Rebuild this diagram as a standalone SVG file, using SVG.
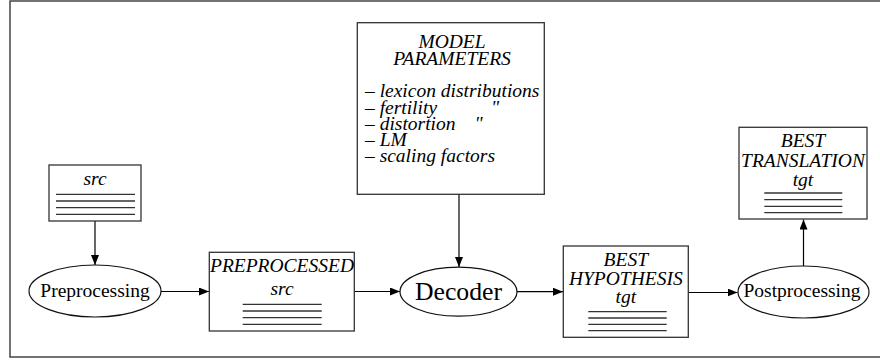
<svg xmlns="http://www.w3.org/2000/svg" width="880" height="363" viewBox="0 0 880 363">
<defs>
<marker id="ah" markerUnits="userSpaceOnUse" markerWidth="11" markerHeight="9" refX="10" refY="4" orient="auto">
<path d="M0,0 L10,4 L0,8 Z" fill="#000"/>
</marker>
<style>
.box{fill:#fff;stroke:#333;stroke-width:1.3}
.ell{fill:#fff;stroke:#111;stroke-width:1.2}
.doc{stroke:#333;stroke-width:1.3}
text{font-family:'Liberation Serif','DejaVu Serif',serif;font-size:19.5px;fill:#000}
.it{font-style:italic}
.c{text-anchor:middle}
.con{stroke:#000;stroke-width:1.2;fill:none;marker-end:url(#ah)}
</style>
</defs>
<rect width="880" height="363" fill="#fff"/>
<rect x="10" y="1" width="880" height="356" fill="none" stroke="#444" stroke-width="1.5"/>

<g id="connectors">
<line class="con" x1="95" y1="221" x2="95" y2="265"/>
<line class="con" x1="161" y1="291.5" x2="209" y2="291.5"/>
<line class="con" x1="354" y1="291.5" x2="400" y2="291.5"/>
<line class="con" x1="459" y1="194" x2="459" y2="267"/>
<line class="con" x1="517" y1="291.7" x2="563" y2="291.7"/>
<line class="con" x1="688" y1="292.5" x2="737.5" y2="292.5"/>
<line class="con" x1="803.5" y1="266" x2="803.5" y2="219.5"/>
</g>

<g id="src">
<rect class="box" x="49" y="165" width="92" height="56"/>
<text class="it c" x="95" y="185" font-family="Liberation Serif, serif">src</text>
<line class="doc" x1="56" y1="194.3" x2="135" y2="194.3"/>
<line class="doc" x1="56" y1="201" x2="135" y2="201"/>
<line class="doc" x1="56" y1="207.7" x2="135" y2="207.7"/>
<line class="doc" x1="56" y1="214.3" x2="135" y2="214.3"/>
</g>

<g id="preprocessing">
<ellipse class="ell" cx="95" cy="291" rx="66" ry="26"/>
<text class="c" x="95" y="297">Preprocessing</text>
</g>

<g id="preprocessed">
<rect class="box" x="209.3" y="252.3" width="145" height="78.7"/>
<text class="it c" x="282" y="272">PREPROCESSED<tspan x="282" y="295">src</tspan></text>
<line class="doc" x1="242.7" y1="304.3" x2="321.7" y2="304.3"/>
<line class="doc" x1="242.7" y1="311" x2="321.7" y2="311"/>
<line class="doc" x1="242.7" y1="317.7" x2="321.7" y2="317.7"/>
<line class="doc" x1="242.7" y1="324.3" x2="321.7" y2="324.3"/>
</g>

<g id="model">
<rect class="box" x="357.3" y="22.7" width="187" height="171.6"/>
<text class="it c" x="452" y="47.7">MODEL<tspan x="452" y="65">PARAMETERS</tspan></text>
<text class="it" x="365" y="97.3">– lexicon distributions<tspan x="365" y="113.5">– fertility</tspan><tspan x="491">"</tspan><tspan x="365" y="129.7">– distortion</tspan><tspan x="474.5">"</tspan><tspan x="365" y="146">– LM</tspan><tspan x="365" y="162">– scaling factors</tspan></text>
</g>

<g id="decoder">
<ellipse class="ell" cx="458.5" cy="291.7" rx="58.5" ry="24.5"/>
<text class="c" x="458.5" y="300" style="font-size:25.7px">Decoder</text>
</g>

<g id="best-hypothesis">
<rect class="box" x="563.3" y="246" width="125" height="91.3"/>
<text class="it c" x="625.8" y="266">BEST<tspan x="625.8" y="285">HYPOTHESIS</tspan><tspan x="625.8" y="302.5">tgt</tspan></text>
<line class="doc" x1="588.3" y1="311.7" x2="666.7" y2="311.7"/>
<line class="doc" x1="588.3" y1="318" x2="666.7" y2="318"/>
<line class="doc" x1="588.3" y1="324.3" x2="666.7" y2="324.3"/>
<line class="doc" x1="588.3" y1="330.7" x2="666.7" y2="330.7"/>
</g>

<g id="postprocessing">
<ellipse class="ell" cx="803.5" cy="292" rx="65.5" ry="26"/>
<text class="c" x="802" y="297">Postprocessing</text>
</g>

<g id="best-translation">
<rect class="box" x="739" y="127.3" width="128" height="91.7"/>
<text class="it c" x="803" y="147">BEST<tspan x="803" y="166.5">TRANSLATION</tspan><tspan x="803" y="185.5">tgt</tspan></text>
<line class="doc" x1="764.3" y1="193" x2="842.3" y2="193"/>
<line class="doc" x1="764.3" y1="199.7" x2="842.3" y2="199.7"/>
<line class="doc" x1="764.3" y1="206.3" x2="842.3" y2="206.3"/>
<line class="doc" x1="764.3" y1="212.7" x2="842.3" y2="212.7"/>
</g>
</svg>
